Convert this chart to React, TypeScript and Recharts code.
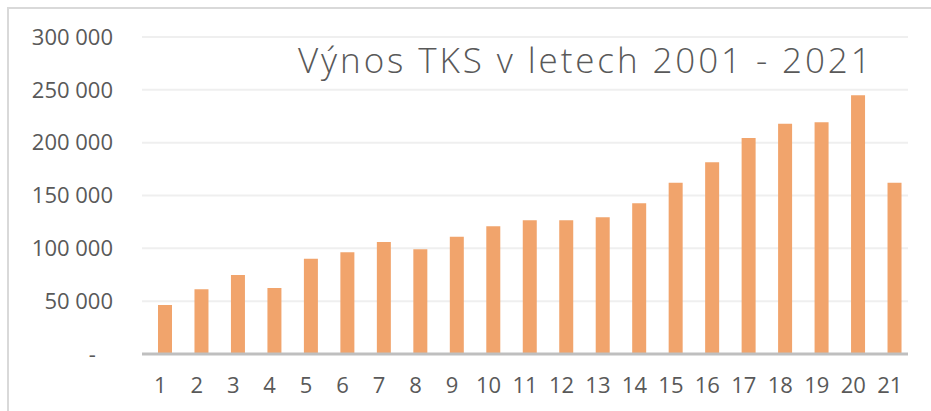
import React from 'react'
import { BarChart, Bar, XAxis, YAxis, CartesianGrid, Rectangle } from 'recharts'

const years = ['1', '2', '3', '4', '5', '6', '7', '8', '9', '10', '11', '12', '13', '14', '15', '16', '17', '18', '19', '20', '21']
const vynos = [46400, 61200, 74800, 62500, 90200, 96200, 106000, 99100, 111000, 120800, 126500, 126500, 129300, 142600, 162100, 181400, 204400, 218000, 219300, 244800, 162100]
const yTicks = [0, 50000, 100000, 150000, 200000, 250000, 300000]
const title = 'Výnos TKS v letech 2001 - 2021'

const data = years.map((year, i) => ({ year, vynos: vynos[i] }))

const font = '"Open Sans", "Noto Sans", sans-serif'
const textGray = '#595959'

const formatTick = (v: number) => {
    if (v === 0) return '-\u00a0\u00a0\u00a0'
    return v.toLocaleString('en-US').replace(/,/g, ' ')
}

// excel draws the bars a few px right of the category centre
const ShiftedBar = (props: any) => <Rectangle {...props} x={props.x + 5} />

export default function App() {
    return (
        <div style={{ position: 'absolute', left: 0, top: 0, width: 931, height: 411, overflow: 'hidden', background: '#fff' }}>
            <div
                style={{
                    position: 'absolute',
                    left: 7,
                    top: 7,
                    width: 940,
                    height: 420,
                    borderLeft: '2px solid #D9D9D9',
                    borderTop: '2px solid #D9D9D9',
                }}
            />
            <div style={{ position: 'absolute', left: 0, top: 0 }}>
                <BarChart width={931} height={411} data={data} margin={{ top: 37, right: 23, left: 0, bottom: 0 }}>
                    <CartesianGrid vertical={false} stroke="#EFEFEF" strokeWidth={2} />
                    <XAxis
                        dataKey="year"
                        interval={0}
                        height={57}
                        tickLine={false}
                        tickSize={0}
                        tickMargin={23}
                        axisLine={{ stroke: '#BFBFBF', strokeWidth: 3 }}
                        tick={{ fill: textGray, fontSize: 22, fontFamily: font }}
                    />
                    <YAxis
                        width={142}
                        domain={[0, 300000]}
                        ticks={yTicks}
                        tickFormatter={formatTick}
                        axisLine={false}
                        tickLine={false}
                        tickSize={0}
                        tickMargin={29}
                        tick={{ fill: textGray, fontSize: 22, fontFamily: font }}
                    />
                    <Bar dataKey="vynos" fill="#F1A46C" barSize={14} shape={ShiftedBar} isAnimationActive={false} />
                </BarChart>
            </div>
            <div
                style={{
                    position: 'absolute',
                    left: 298,
                    top: 42,
                    fontFamily: font,
                    fontWeight: 300,
                    fontSize: 35,
                    lineHeight: '35px',
                    letterSpacing: 2.9,
                    color: textGray,
                    whiteSpace: 'nowrap',
                }}
            >
                {title}
            </div>
        </div>
    )
}
